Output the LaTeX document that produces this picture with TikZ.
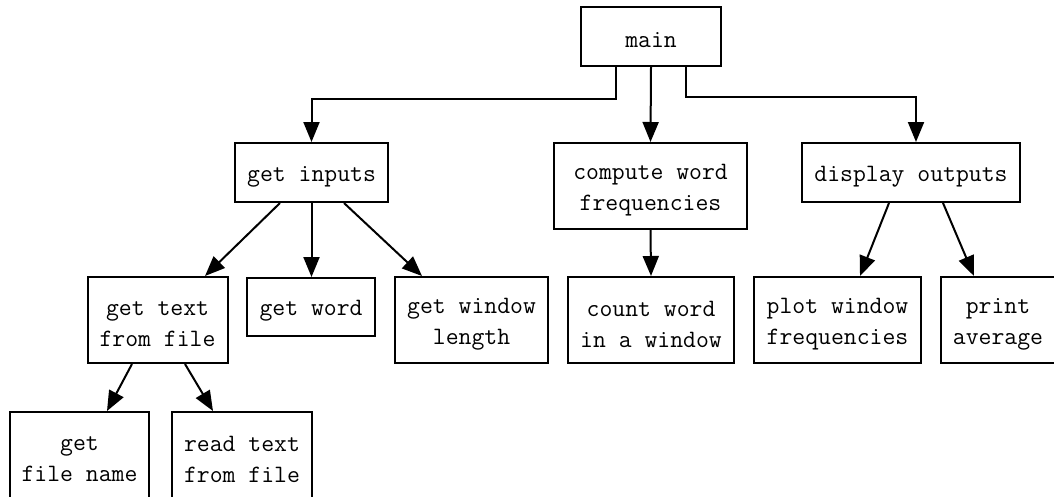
\documentclass[tikz,border=0pt]{standalone}
\usetikzlibrary{arrows.meta}
\begin{document}
\begin{tikzpicture}[x=1pt,y=-1pt,
  txt/.style={inner sep=0pt,align=center,yshift=-4pt,
    font=\fontsize{25}{31}\selectfont\ttfamily},
  box/.style={draw,line width=2pt,inner sep=0pt,label={[txt]center:{#1}}},
  arr/.style={line width=2pt,-{Triangle[length=20pt,width=16pt]}}]
\useasboundingbox (0,0) rectangle (1054,496);
\node[box={main},minimum width=140pt,minimum height=59pt] (main) at (651,36.5) {};
\node[box={get inputs},minimum width=153pt,minimum height=59pt] (inputs) at (311.5,172.5) {};
\node[box={compute word\\frequencies},minimum width=193pt,minimum height=86pt] (compute) at (650.5,186) {};
\node[box={display outputs},minimum width=218pt,minimum height=59pt] (display) at (911,172.5) {};
\node[box={get text\\from file},minimum width=140pt,minimum height=86pt] (textfile) at (157.5,320) {};
\node[box={get word},minimum width=128pt,minimum height=58pt] (word) at (311,307) {};
\node[box={get window\\length},minimum width=153pt,minimum height=86pt] (window) at (471.5,320) {};
\node[box={count word\\in a window},minimum width=166pt,minimum height=86pt] (count) at (651,320) {};
\node[box={plot window\\frequencies},minimum width=167pt,minimum height=86pt] (plot) at (837.5,320) {};
\node[box={print\\average},minimum width=114pt,minimum height=86pt] (print) at (998,320) {};
\node[box={get\\file name},minimum width=139pt,minimum height=86pt] (filename) at (79.5,455) {};
\node[box={read text\\from file},minimum width=140pt,minimum height=86pt] (readtext) at (242,455) {};

\draw[arr] ([xshift=-35pt]main.south) -- ++(0,32) -| (inputs.north);
\draw[arr] (main.south) -- (compute.north);
\draw[arr] ([xshift=35pt]main.south) -- ++(0,30) -| ([xshift=5pt]display.north);

\draw[arr] ([xshift=-31.5pt]inputs.south) -- ([xshift=47.5pt]textfile.north);
\draw[arr] (inputs.south) -- (inputs.south |- word.north);
\draw[arr] ([xshift=32.5pt]inputs.south) -- ([xshift=-49.5pt]window.north);
\draw[arr] (compute.south) -- (count.north);
\draw[arr] ([xshift=-22pt]display.south) -- ([xshift=22.5pt]plot.north);
\draw[arr] ([xshift=32pt]display.south) -- ([xshift=-24pt]print.north);
\draw[arr] ([xshift=-25.5pt]textfile.south) -- ([xshift=27.5pt]filename.north);
\draw[arr] ([xshift=27.5pt]textfile.south) -- ([xshift=-29pt]readtext.north);
\end{tikzpicture}
\end{document}
